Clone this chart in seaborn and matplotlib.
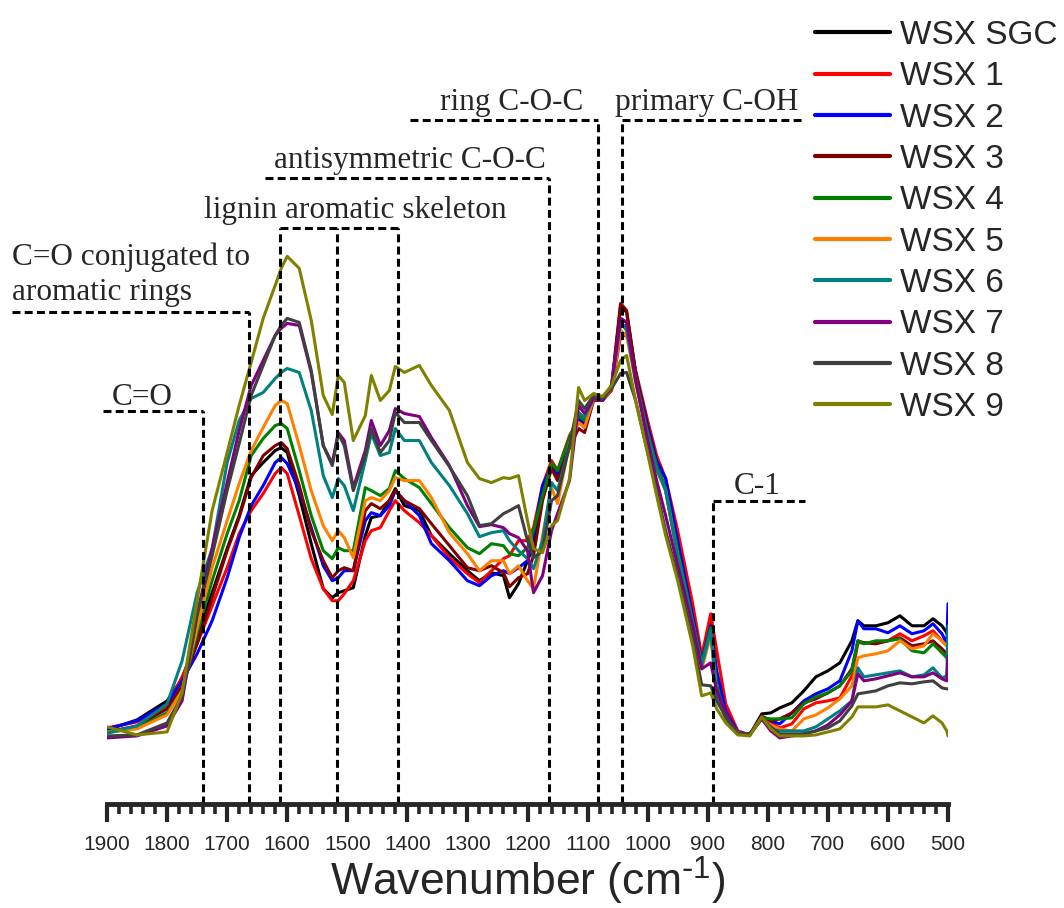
import numpy as np
import pandas as pd
import matplotlib
matplotlib.use("Agg")
import matplotlib.pyplot as plt
from matplotlib.ticker import MultipleLocator
import seaborn as sns

# FTIR spectra of the WSX samples, absorbance in arbitrary units
wavenumber = [1900, 1850, 1800, 1775, 1750, 1725, 1700, 1680, 1660, 1640,
              1620, 1610, 1600, 1580, 1560, 1540, 1525, 1515, 1505, 1490,
              1470, 1460, 1445, 1430, 1420, 1405, 1380, 1360, 1330, 1300,
              1280, 1260, 1240, 1230, 1215, 1200, 1190, 1175, 1160, 1150,
              1130, 1115, 1105, 1090, 1075, 1060, 1045, 1035, 1020, 1000,
              985, 970, 950, 925, 910, 895, 885, 870, 850, 830,
              810, 795, 780, 760, 740, 720, 700, 680, 660, 650,
              640, 620, 600, 580, 560, 540, 525, 510, 502, 500]

wsx_sgc = [11, 21, 40, 62, 105, 148, 192, 225, 265, 278,
           290, 293, 288, 245, 197, 152, 143, 148, 150, 153,
           205, 223, 225, 240, 252, 235, 230, 205, 187, 170,
           160, 168, 165, 143, 157, 180, 195, 245, 275, 263,
           300, 322, 317, 342, 340, 353, 435, 428, 368, 310,
           275, 252, 188, 120, 78, 118, 55, 26, 9, 6,
           27, 28, 33, 38, 50, 64, 70, 78, 100, 120,
           115, 115, 118, 125, 115, 115, 122, 115, 108, 107]
wsx_1 = [13, 19, 35, 64, 97, 135, 173, 207, 230, 247,
         267, 273, 267, 225, 182, 152, 140, 140, 147, 160,
         200, 210, 213, 230, 240, 230, 218, 205, 183, 167,
         158, 170, 182, 185, 200, 200, 213, 255, 280, 270,
         305, 320, 313, 342, 340, 350, 405, 405, 370, 320,
         285, 262, 210, 137, 85, 127, 90, 37, 10, 6,
         23, 18, 13, 17, 32, 38, 40, 43, 65, 98,
         98, 98, 100, 107, 100, 105, 110, 100, 95, 95]
wsx_2 = [12, 20, 37, 60, 87, 120, 163, 203, 235, 255,
         278, 283, 277, 250, 213, 175, 160, 163, 170, 170,
         220, 228, 225, 235, 250, 240, 225, 197, 180, 160,
         155, 165, 170, 167, 173, 180, 205, 255, 274, 267,
         300, 322, 318, 342, 340, 352, 422, 418, 368, 315,
         280, 262, 200, 125, 80, 115, 70, 30, 9, 6,
         24, 20, 17, 28, 40, 47, 52, 60, 90, 120,
         112, 112, 108, 115, 107, 110, 117, 107, 97, 137]
wsx_3 = [9, 15, 32, 55, 97, 143, 190, 223, 263, 285,
         295, 298, 292, 255, 210, 180, 163, 170, 173, 170,
         230, 237, 232, 240, 250, 240, 232, 217, 195, 173,
         170, 175, 168, 154, 163, 167, 185, 240, 272, 260,
         293, 312, 308, 340, 340, 355, 437, 430, 368, 310,
         275, 250, 185, 118, 75, 110, 50, 24, 8, 6,
         25, 20, 22, 28, 38, 42, 48, 55, 72, 100,
         98, 97, 100, 103, 95, 97, 100, 92, 87, 90]
wsx_4 = [8, 13, 28, 50, 107, 160, 207, 240, 285, 302,
         315, 317, 312, 270, 225, 190, 182, 193, 190, 190,
         253, 250, 245, 252, 270, 262, 253, 237, 213, 193,
         187, 197, 195, 187, 185, 193, 210, 245, 277, 270,
         303, 325, 320, 343, 340, 353, 418, 412, 362, 308,
         275, 252, 190, 120, 78, 113, 55, 26, 8, 6,
         23, 22, 22, 23, 37, 44, 48, 55, 70, 100,
         97, 100, 100, 102, 90, 88, 97, 88, 83, 100]
wsx_5 = [9, 12, 26, 50, 113, 173, 220, 257, 290, 313,
         335, 340, 337, 295, 250, 215, 200, 210, 203, 183,
         240, 243, 240, 250, 263, 260, 260, 243, 208, 187,
         170, 180, 180, 167, 175, 160, 152, 205, 253, 237,
         297, 318, 313, 342, 340, 352, 410, 405, 358, 303,
         270, 250, 185, 115, 72, 105, 48, 24, 8, 6,
         22, 16, 12, 10, 22, 26, 33, 42, 55, 83,
         85, 87, 90, 100, 92, 95, 107, 100, 95, 95]
wsx_6 = [8, 15, 37, 80, 148, 192, 278, 320, 342, 348,
         362, 368, 372, 368, 330, 265, 243, 262, 255, 230,
         280, 307, 285, 288, 312, 300, 300, 278, 255, 227,
         204, 208, 210, 200, 190, 182, 172, 200, 258, 250,
         295, 328, 323, 342, 340, 355, 418, 410, 360, 305,
         272, 250, 185, 118, 75, 110, 45, 22, 7, 7,
         22, 12, 10, 10, 10, 14, 22, 30, 40, 73,
         64, 66, 68, 70, 64, 66, 73, 63, 65, 115]
wsx_7 = [3, 5, 15, 40, 127, 192, 258, 310, 355, 380,
         405, 412, 417, 415, 368, 295, 277, 308, 300, 253,
         290, 320, 295, 310, 332, 327, 324, 303, 275, 235,
         214, 216, 213, 207, 203, 190, 148, 165, 210, 227,
         260, 335, 327, 342, 340, 355, 422, 418, 360, 300,
         260, 225, 175, 115, 72, 78, 50, 28, 7, 7,
         22, 10, 3, 5, 7, 10, 16, 26, 40, 67,
         60, 62, 65, 68, 64, 64, 68, 62, 60, 85]
wsx_8 = [5, 6, 18, 45, 125, 185, 250, 297, 345, 375,
         405, 415, 422, 418, 370, 295, 275, 307, 295, 250,
         285, 312, 288, 300, 328, 318, 318, 300, 274, 245,
         215, 217, 227, 230, 235, 200, 183, 190, 240, 245,
         295, 340, 332, 345, 342, 352, 367, 368, 340, 288,
         250, 210, 165, 103, 56, 55, 40, 24, 7, 7,
         23, 14, 7, 7, 7, 10, 13, 20, 35, 47,
         48, 50, 55, 58, 57, 59, 60, 53, 52, 52]
wsx_9 = [14, 6, 9, 48, 140, 230, 288, 335, 378, 422,
         455, 472, 484, 472, 420, 345, 326, 365, 358, 300,
         325, 365, 340, 350, 374, 368, 375, 355, 330, 278,
         262, 258, 263, 262, 265, 220, 192, 188, 215, 220,
         262, 353, 340, 347, 344, 355, 380, 385, 340, 287,
         245, 205, 160, 95, 45, 48, 32, 18, 6, 5,
         24, 12, 5, 5, 5, 6, 9, 12, 24, 34,
         34, 34, 36, 30, 24, 18, 25, 18, 10, 5]

samples = ["WSX SGC", "WSX 1", "WSX 2", "WSX 3", "WSX 4",
           "WSX 5", "WSX 6", "WSX 7", "WSX 8", "WSX 9"]
spectra = [wsx_sgc, wsx_1, wsx_2, wsx_3, wsx_4, wsx_5, wsx_6, wsx_7, wsx_8, wsx_9]
colors = ["#000000", "#ff0000", "#0000ff", "#800000", "#008000",
          "#ff8000", "#008080", "#800080", "#404040", "#808000"]

# band assignments: label, vertical line positions, bracket height, bracket span, label spot
bands = [
    ("C=O", [1740], 330, 1907, 1740, 1842, 336),
    ("lignin aromatic skeleton", [1612, 1517, 1416], 512, 1612, 1416, 1487, 522),
    ("antisymmetric C-O-C", [1164], 562, 1637, 1164, 1396, 572),
    ("ring C-O-C", [1083], 620, 1396, 1083, 1227, 630),
    ("primary C-OH", [1043], 620, 1043, 738, 901, 630),
    ("C-1", [892], 240, 892, 738, 818, 247),
]
conj_band = [1664]

sns.set_style("ticks")
plt.rcParams['font.family'] = ['Liberation Sans', 'DejaVu Sans']
plt.rcParams['mathtext.default'] = 'regular'

frames = []
for name, vals in zip(samples, spectra):
    frames.append(pd.DataFrame({"wn": wavenumber, "absorbance": vals, "sample": name}))
df = pd.concat(frames, ignore_index=True)

fig = plt.figure(figsize=(10.64, 9.08), dpi=100)
ax = fig.add_axes([107 / 1064, 104 / 908, 841 / 1064, 804 / 908])

sns.lineplot(data=df, x="wn", y="absorbance", hue="sample", hue_order=samples,
             palette=colors, linewidth=2.2, estimator=None, ax=ax)

ymin = -63
dash = (0, (2.6, 1.4))
serif = "Liberation Serif"
for label, verts, ytop, xl, xr, tx, ty in bands:
    for v in verts:
        ax.plot([v, v], [ymin, ytop], color="black", lw=2.2, linestyle=dash, clip_on=False)
    ax.plot([xl, xr], [ytop, ytop], color="black", lw=2.2, linestyle=dash, clip_on=False)
    ax.text(tx, ty, label, ha="center", va="baseline", fontsize=22.5, family=serif)

ax.plot([conj_band[0], conj_band[0]], [ymin, 428], color="black", lw=2.2,
        linestyle=dash, clip_on=False)
ax.plot([2058, conj_band[0]], [428, 428], color="black", lw=2.2, linestyle=dash, clip_on=False)
ax.text(2058, 475, "C=O conjugated to", ha="left", va="baseline", fontsize=22.5, family=serif)
ax.text(2058, 440, "aromatic rings", ha="left", va="baseline", fontsize=22.5, family=serif)

ax.set_xlim(1900, 500)
ax.set_ylim(ymin, 740)
ax.set_yticks([])
ax.set_ylabel("")
for s in ["left", "top", "right"]:
    ax.spines[s].set_visible(False)
ax.spines["bottom"].set_linewidth(3.5)
ax.xaxis.set_major_locator(MultipleLocator(100))
ax.xaxis.set_minor_locator(MultipleLocator(20))
ax.tick_params(axis="x", which="major", length=13, width=3, direction="out",
               labelsize=15, pad=9)
ax.tick_params(axis="x", which="minor", length=7, width=2.6, direction="out")
ax.set_xlabel("Wavenumber (cm$^{\\text{-}1}$)", fontsize=32, labelpad=1)

handles, labels = ax.get_legend_handles_labels()
ax.get_legend().remove()
for h in handles:
    h.set_linewidth(3)
fig.legend(handles, labels, loc="upper left", bbox_to_anchor=(815 / 1064, 1 - 20 / 908),
           frameon=False, fontsize=24, handlelength=2.25, handletextpad=0.3,
           labelspacing=0.31, borderpad=0, borderaxespad=0)

fig.savefig("out.png", dpi=100)
